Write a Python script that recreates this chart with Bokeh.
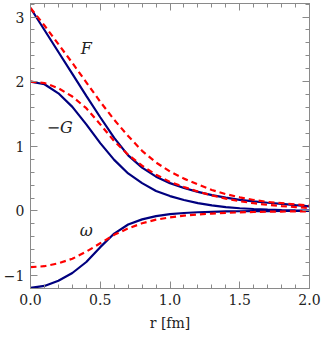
from bokeh.plotting import figure
from bokeh.models import (Range1d, SingleIntervalTicker, LinearAxis, Label,
                          CustomJSTickFormatter, NumeralTickFormatter)
from bokeh.embed import file_html
from bokeh.resources import INLINE

# ---- data ----
r = [0.0, 0.1, 0.2, 0.3, 0.4, 0.5, 0.6, 0.7, 0.8, 0.9, 1.0,
     1.1, 1.2, 1.3, 1.4, 1.5, 1.6, 1.7, 1.8, 1.9, 2.0]

F_blue = [3.14, 2.80, 2.46, 2.12, 1.78, 1.45, 1.13, 0.86, 0.67, 0.53, 0.43,
          0.355, 0.295, 0.245, 0.205, 0.172, 0.147, 0.127, 0.11, 0.09, 0.072]
F_red = [3.14, 2.87, 2.58, 2.29, 1.99, 1.69, 1.41, 1.16, 0.93, 0.75, 0.61,
         0.50, 0.41, 0.325, 0.26, 0.21, 0.17, 0.14, 0.12, 0.10, 0.083]
mG_blue = [2.00, 1.96, 1.82, 1.61, 1.34, 1.05, 0.79, 0.58, 0.43, 0.31, 0.23,
           0.17, 0.12, 0.085, 0.06, 0.042, 0.03, 0.02, 0.014, 0.01, 0.007]
mG_red = [2.00, 1.98, 1.90, 1.77, 1.59, 1.34, 1.08, 0.87, 0.70, 0.56, 0.45,
          0.37, 0.30, 0.24, 0.19, 0.15, 0.12, 0.095, 0.075, 0.06, 0.045]
w_blue = [-1.19, -1.16, -1.08, -0.96, -0.79, -0.56, -0.35, -0.21, -0.13, -0.08, -0.05,
          -0.032, -0.02, -0.013, -0.008, -0.005, -0.003, -0.002, -0.001, -0.001, 0.0]
w_red = [-0.87, -0.855, -0.81, -0.74, -0.63, -0.50, -0.37, -0.27, -0.19, -0.135, -0.10,
         -0.073, -0.054, -0.04, -0.03, -0.022, -0.016, -0.012, -0.009, -0.007, -0.005]

curve_labels = ["F", "\u2212G", "\u03c9"]

BLUE = "#00007f"
RED = "#ff0000"
GRAY = "#8a8a8a"
FONT = "DejaVu Serif"

p = figure(frame_width=279, frame_height=285, output_backend="svg",
           toolbar_location=None, x_range=Range1d(0, 2.0),
           y_range=Range1d(-1.2, 3.21),
           min_border_left=28, min_border_right=12, min_border_top=3,
           min_border_bottom=45, x_axis_location=None, y_axis_location=None)
p.grid.visible = False
p.outline_line_color = GRAY
p.background_fill_color = "white"
p.border_fill_color = "white"


def make_axis(kind, show):
    ax = LinearAxis()
    if kind == "x":
        ax.ticker = SingleIntervalTicker(interval=0.5, num_minor_ticks=5)
        ax.formatter = NumeralTickFormatter(format="0.0")
    else:
        ax.ticker = SingleIntervalTicker(interval=1, num_minor_ticks=5)
        ax.formatter = CustomJSTickFormatter(
            code="return (tick < 0 ? '\u2212' : '') + Math.abs(Math.round(tick)).toString();")
    ax.major_tick_in = 7
    ax.major_tick_out = 0
    ax.minor_tick_in = 4
    ax.minor_tick_out = 0
    ax.axis_line_color = GRAY
    ax.major_tick_line_color = GRAY
    ax.minor_tick_line_color = GRAY
    ax.major_label_text_font = FONT
    ax.major_label_text_color = "#222222"
    ax.major_label_text_font_size = "14px"
    if not show:
        ax.formatter = CustomJSTickFormatter(code="return '';")
        ax.major_label_standoff = 0
    return ax


xb = make_axis("x", True)
xb.major_label_standoff = 5
xb.axis_label = "r [fm]"
xb.axis_label_text_font = FONT
xb.axis_label_text_font_style = "normal"
xb.axis_label_text_font_size = "14px"
xb.axis_label_text_color = "#222222"
xb.axis_label_standoff = 7
p.add_layout(xb, "below")

yl = make_axis("y", True)
yl.major_label_standoff = 6
p.add_layout(yl, "left")

p.add_layout(make_axis("x", False), "above")
p.add_layout(make_axis("y", False), "right")

LW = 2.2
for ys in (F_blue, mG_blue, w_blue):
    p.line(r, ys, line_color=BLUE, line_width=LW)
for ys in (F_red, mG_red, w_red):
    p.line(r, ys, line_color=RED, line_width=LW, line_dash="6 4")

for (lx, ly), txt in zip([(0.40, 2.51), (0.21, 1.29), (0.40, -0.30)], curve_labels):
    p.add_layout(Label(x=lx, y=ly, text=txt, text_font=FONT,
                       text_font_style="italic", text_font_size="16px",
                       text_align="center", text_baseline="middle",
                       text_color="#222222"))

open("out.html", "w").write(file_html(p, INLINE))
